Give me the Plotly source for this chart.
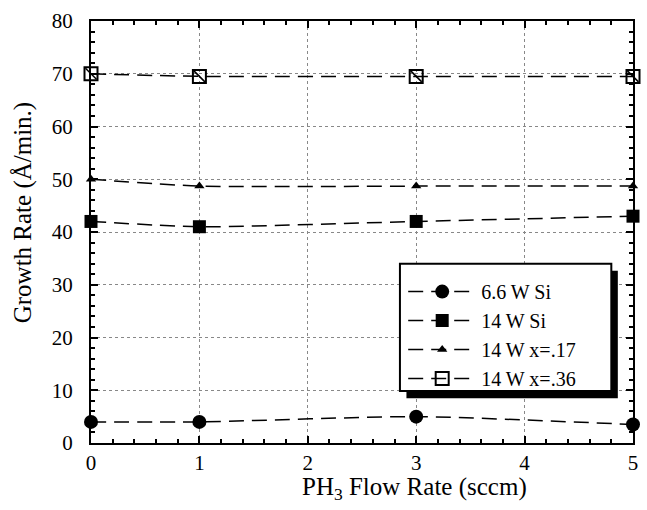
import plotly.graph_objects as go

x_vals = [0, 1, 3, 5]
s66_si = [4, 4, 5, 3.5]
s14_si = [42, 41, 42, 43]
s14_x17 = [50, 48.7, 48.7, 48.7]
s14_x36 = [70, 69.5, 69.5, 69.5]
names = ["6.6 W Si", "14 W Si", "14 W x=.17", "14 W x=.36"]
x_title = "PH<sub>3</sub> Flow Rate (sccm)"
y_title = "Growth Rate (Å/min.)"

FONT = "Liberation Serif"
fig = go.Figure()

line = dict(color="black", width=1.5, dash="15px,8px", shape="spline", smoothing=0.6)
fig.add_trace(go.Scatter(x=x_vals, y=s66_si, mode="lines+markers", name=names[0], cliponaxis=False,
                         line=line, marker=dict(symbol="circle", size=14, color="black")))
fig.add_trace(go.Scatter(x=x_vals, y=s14_si, mode="lines+markers", name=names[1], cliponaxis=False,
                         line=line, marker=dict(symbol="square", size=13, color="black")))
fig.add_trace(go.Scatter(x=x_vals, y=s14_x17, mode="lines+markers", name=names[2], cliponaxis=False,
                         line=line, marker=dict(symbol="triangle-up", size=9, color="black")))
fig.add_trace(go.Scatter(x=x_vals, y=s14_x36, mode="lines+markers", name=names[3], cliponaxis=False,
                         line=line, marker=dict(symbol="square-open", size=13, color="black",
                                                line=dict(width=2, color="black"))))
fig.add_trace(go.Scatter(x=x_vals, y=s14_x36, mode="markers", showlegend=False, cliponaxis=False,
                         marker=dict(symbol="line-nw", size=11, color="black",
                                     line=dict(width=1.5, color="black"))))

axis_common = dict(
    showline=True, linecolor="black", linewidth=2, mirror="allticks",
    ticks="inside", ticklen=7, tickwidth=2, tickcolor="black",
    showgrid=True, gridcolor="#888", griddash="dot", gridwidth=1,
    zeroline=False, tickfont=dict(family=FONT, size=21, color="black"),
)
fig.update_xaxes(range=[0, 5], dtick=1,
                 minor=dict(ticks="inside", ticklen=4, tickwidth=2, tickcolor="black", dtick=0.2, showgrid=False),
                 **axis_common)
fig.update_yaxes(range=[0, 80], dtick=10, ticklabelstandoff=12,
                 minor=dict(ticks="inside", ticklen=4, tickwidth=2, tickcolor="black", dtick=2, showgrid=False),
                 **axis_common)

# axis titles
fig.add_annotation(text=x_title, xref="paper", yref="paper", x=0.596, y=-0.108,
                   xanchor="center", yanchor="middle", showarrow=False,
                   font=dict(family=FONT, size=25, color="black"))
fig.add_annotation(text=y_title, xref="paper", yref="paper", x=-0.126, y=0.546,
                   xanchor="center", yanchor="middle", textangle=-90, showarrow=False,
                   font=dict(family=FONT, size=25, color="black"))

# legend box with drop shadow
fig.add_shape(type="rect", xref="paper", yref="paper", x0=0.582, x1=0.972, y0=0.106, y1=0.408,
              fillcolor="black", line=dict(width=0), layer="above")
fig.add_shape(type="rect", xref="paper", yref="paper", x0=0.570, x1=0.960, y0=0.123, y1=0.425,
              fillcolor="white", line=dict(width=2, color="black"), layer="above")

fig.update_layout(
    width=647, height=510, margin=dict(l=91, r=9, t=20, b=67),
    plot_bgcolor="white", paper_bgcolor="white",
    legend=dict(x=0.576, y=0.405, xanchor="left", yanchor="top", bgcolor="rgba(0,0,0,0)",
                borderwidth=0, font=dict(family=FONT, size=20, color="black"),
                tracegroupgap=0, itemwidth=68),
)
fig.write_html("out.html")
